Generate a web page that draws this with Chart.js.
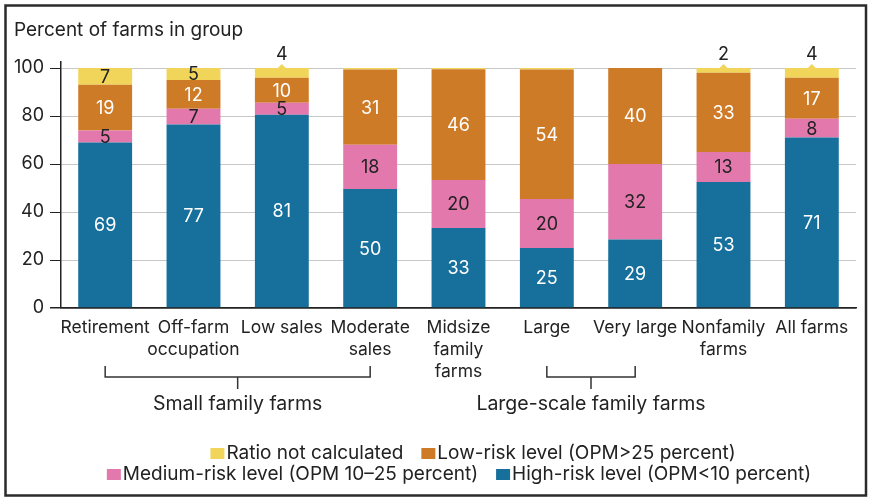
<!DOCTYPE html>
<html>
<head>
<meta charset="utf-8">
<script src="https://cdn.jsdelivr.net/npm/chart.js@4.4.0/dist/chart.umd.min.js"></script>
<style>
    html, body { margin: 0; padding: 0; background: #ffffff; }
</style>
</head>
<body>
<canvas id="grafico" width="869" height="499"></canvas>
<script>
// categorias e valores (percentual de fazendas em cada grupo)
const categorias = ["Retirement", ["Off-farm", "occupation"], "Low sales", ["Moderate", "sales"],
    ["Midsize", "family", "farms"], "Large", "Very large", ["Nonfamily", "farms"], "All farms"];
const riscoAlto = [69, 76.5, 80.5, 49.6, 33.3, 25, 28.5, 52.5, 71];
const riscoMedio = [5, 6.5, 5, 18.4, 20, 20.4, 31.5, 12.5, 7.9];
const riscoBaixo = [19, 12, 10.4, 31.4, 46.2, 54, 40, 33, 17];
const naoCalculado = [7, 5, 4.1, 0.6, 0.5, 0.6, 0, 2, 4.1];
const ticksY = [0, 20, 40, 60, 80, 100];

// grupos marcados com chave abaixo do eixo
const grupos = [
    { texto: "Small family farms", de: 0, ate: 3 },
    { texto: "Large-scale family farms", de: 5, ate: 6 }
];

const FONTE = "Inter, 'Liberation Sans', sans-serif";
const COR_TEXTO = "#222222";

const series = [
    { label: "High-risk level (OPM<10 percent)", data: riscoAlto, cor: "#17709c", corTexto: "#ffffff" },
    { label: "Medium-risk level (OPM 10\u201325 percent)", data: riscoMedio, cor: "#e278ac", corTexto: COR_TEXTO },
    { label: "Low-risk level (OPM>25 percent)", data: riscoBaixo, cor: "#ce7b28", corTexto: "#ffffff" },
    { label: "Ratio not calculated", data: naoCalculado, cor: "#f1d55b", corTexto: COR_TEXTO }
];

// linhas da legenda, na ordem do original
const legendaLinhas = [[3, 2], [1, 0]];
const legendaCentros = [473, 459];

const extras = {
    id: "extras",
    afterDraw(chart) {
        const ctx = chart.ctx;
        const escalaX = chart.scales.x;
        ctx.save();

        // moldura
        ctx.strokeStyle = "#2b2b2b";
        ctx.lineWidth = 2.5;
        ctx.strokeRect(5.5, 5.5, 860.5, 490);

        // titulo do eixo y
        ctx.fillStyle = COR_TEXTO;
        ctx.font = "19px " + FONTE;
        ctx.textAlign = "left";
        ctx.textBaseline = "alphabetic";
        ctx.fillText("Percent of farms in group", 14, 36);

        // rotulos dentro/acima das barras
        ctx.font = "18px " + FONTE;
        ctx.textAlign = "center";
        ctx.textBaseline = "middle";
        chart.data.datasets.forEach((ds, i) => {
            const meta = chart.getDatasetMeta(i);
            meta.data.forEach((barra, j) => {
                const v = ds.data[j];
                if (v < 1) return;
                const txt = String(Math.round(v));
                if (i === 3 && v < 4.5) {
                    // valor pequeno: vai acima da barra com uma setinha
                    ctx.fillStyle = ds.backgroundColor;
                    ctx.beginPath();
                    ctx.moveTo(barra.x - 4.5, barra.y + 0.5);
                    ctx.lineTo(barra.x + 4.5, barra.y + 0.5);
                    ctx.lineTo(barra.x, barra.y - 4);
                    ctx.closePath();
                    ctx.fill();
                    ctx.fillStyle = COR_TEXTO;
                    ctx.fillText(txt, barra.x, barra.y - 13);
                } else {
                    ctx.fillStyle = series[i].corTexto;
                    ctx.fillText(txt, barra.x, (barra.y + barra.base) / 2 + 1);
                }
            });
        });

        // chaves dos grupos
        ctx.strokeStyle = "#333333";
        ctx.lineWidth = 1.5;
        ctx.font = "19.5px " + FONTE;
        ctx.fillStyle = COR_TEXTO;
        grupos.forEach(g => {
            const x1 = escalaX.getPixelForValue(g.de);
            const x2 = escalaX.getPixelForValue(g.ate);
            const meio = (x1 + x2) / 2;
            ctx.beginPath();
            ctx.moveTo(x1, 366);
            ctx.lineTo(x1, 377);
            ctx.lineTo(x2, 377);
            ctx.lineTo(x2, 366);
            ctx.moveTo(meio, 377);
            ctx.lineTo(meio, 389);
            ctx.stroke();
            ctx.fillText(g.texto, meio, 404);
        });

        // legenda
        ctx.font = "19px " + FONTE;
        ctx.textAlign = "left";
        const caixa = 14, folga = 2, espaco = 18;
        legendaLinhas.forEach((linha, k) => {
            const larguras = linha.map(i => caixa + folga + ctx.measureText(chart.data.datasets[i].label).width);
            const total = larguras.reduce((a, b) => a + b, 0) + espaco * (linha.length - 1);
            let x = legendaCentros[k] - total / 2;
            const y = 453 + k * 21;
            linha.forEach((i, n) => {
                const ds = chart.data.datasets[i];
                ctx.fillStyle = ds.backgroundColor;
                ctx.fillRect(x, y - 5, caixa, 11);
                ctx.fillStyle = COR_TEXTO;
                ctx.fillText(ds.label, x + caixa + folga, y);
                x += larguras[n] + espaco;
            });
        });

        ctx.restore();
    }
};

const grafico = new Chart(document.getElementById("grafico"), {
    type: "bar",
    data: {
        labels: categorias,
        datasets: series.map(s => ({
            label: s.label,
            data: s.data,
            backgroundColor: s.cor,
            borderWidth: 0,
            barPercentage: 0.61,
            categoryPercentage: 1
        }))
    },
    options: {
        responsive: false,
        animation: false,
        layout: {
            padding: { top: 62, left: 5, right: 13, bottom: 111 }
        },
        plugins: {
            legend: { display: false },
            tooltip: { enabled: false },
            title: { display: false }
        },
        scales: {
            x: {
                stacked: true,
                grid: { display: false, drawTicks: false },
                border: { display: true, color: "#222222", width: 1.5 },
                ticks: {
                    color: COR_TEXTO,
                    font: { family: FONTE, size: 17.5, lineHeight: 1.25 },
                    padding: 9,
                    maxRotation: 0,
                    autoSkip: false
                },
                afterFit: function (escala) {
                    escala.height = 80;
                }
            },
            y: {
                stacked: true,
                min: 0,
                max: 102.5,
                grid: {
                    color: c => (c.tick && c.tick.value === 0) ? "#222222" : "#c8c8c8",
                    lineWidth: c => (c.tick && c.tick.value === 0) ? 1.5 : 1,
                    tickColor: "#222222",
                    tickLength: 11
                },
                border: { display: true, color: "#222222", width: 1.5 },
                ticks: {
                    color: COR_TEXTO,
                    font: { family: FONTE, size: 18 },
                    padding: 6
                },
                afterBuildTicks: function (escala) {
                    escala.ticks = ticksY.map(v => ({ value: v }));
                },
                afterFit: function (escala) {
                    escala.width = 56;
                }
            }
        }
    },
    plugins: [extras]
});
</script>
</body>
</html>
